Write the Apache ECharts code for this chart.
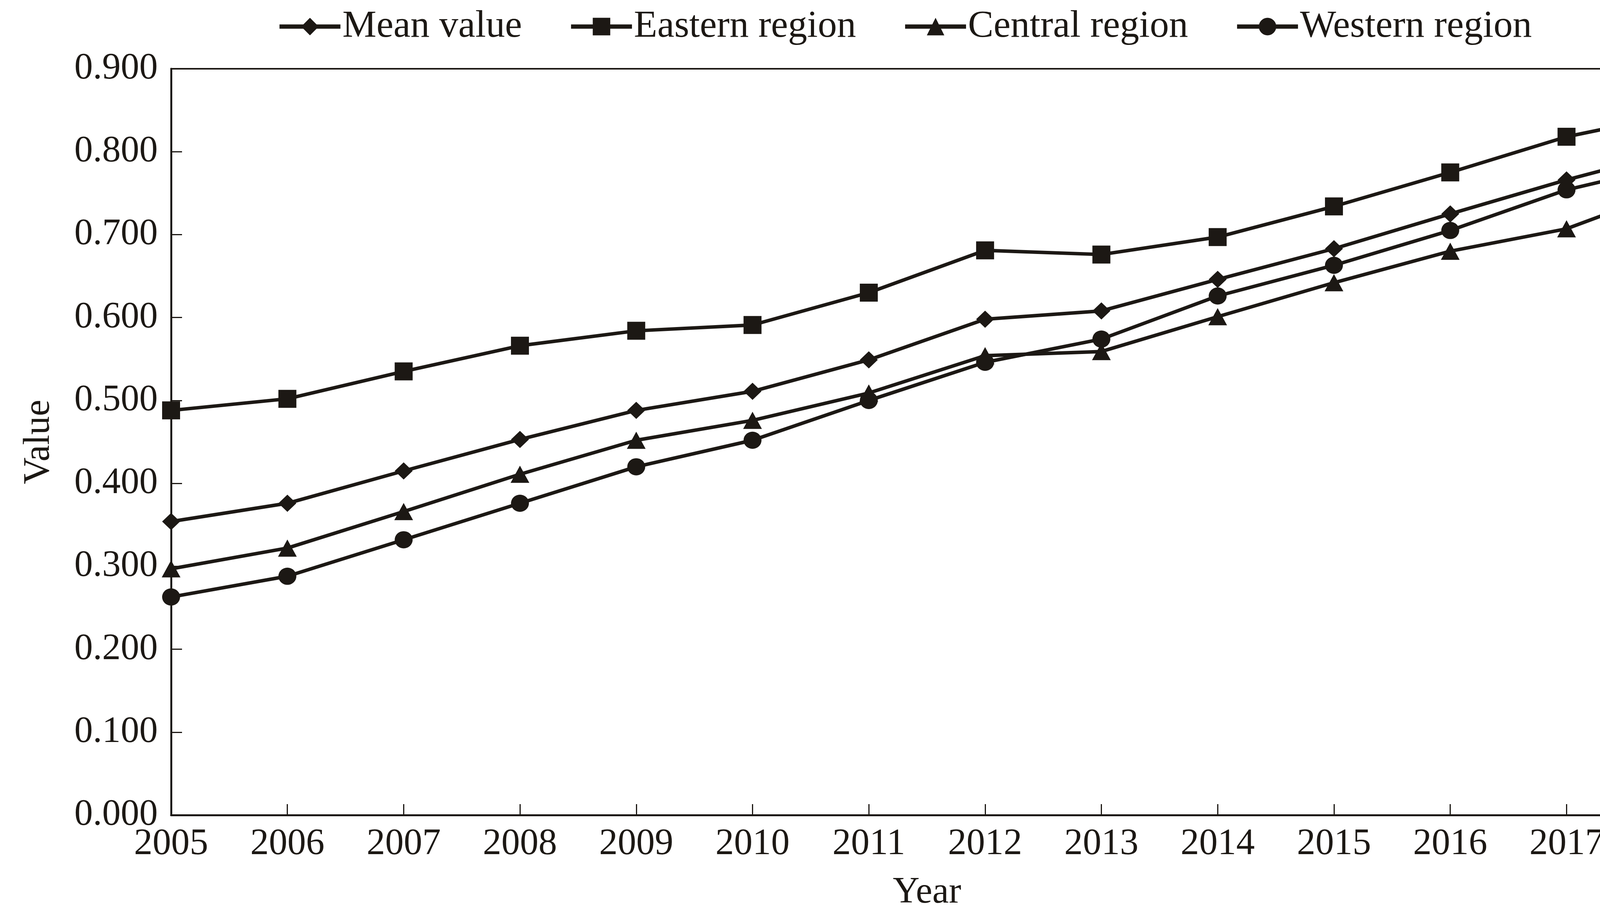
<!DOCTYPE html>
<html>
<head>
<meta charset="utf-8">
<script src="https://cdn.jsdelivr.net/npm/echarts@6/dist/echarts.min.js"></script>
<style>
html,body{margin:0;padding:0;background:#fff;overflow:hidden;}
#chart{width:4443px;height:2352px;}
</style>
</head>
<body>
<div id="chart"></div>
<script>
const years = ['2005','2006','2007','2008','2009','2010','2011','2012','2013','2014','2015','2016','2017','2018'];
const meanValue = [0.354,0.376,0.415,0.453,0.488,0.511,0.549,0.598,0.608,0.646,0.683,0.725,0.766,0.803];
const easternRegion = [0.488,0.502,0.535,0.566,0.584,0.591,0.630,0.681,0.676,0.697,0.734,0.775,0.818,0.847];
const centralRegion = [0.297,0.322,0.366,0.411,0.452,0.476,0.509,0.554,0.559,0.601,0.642,0.680,0.707,0.759];
const westernRegion = [0.263,0.288,0.332,0.376,0.420,0.452,0.500,0.546,0.574,0.626,0.663,0.705,0.754,0.787];
const seriesNames = ['Mean value','Eastern region','Central region','Western region'];

const ink = '#1c1814';
const font = 'Liberation Serif';
const fs = 95;

const chart = echarts.init(document.getElementById('chart'));
function mk(name, data, symbol, size) {
  return {
    name: name, type: 'line', data: data,
    symbol: symbol, symbolSize: size,
    lineStyle: {color: ink, width: 9},
    itemStyle: {color: ink},
    emphasis: {disabled: true},
    animation: false
  };
}
chart.setOption({
  backgroundColor: '#fff',
  animation: false,
  legend: {
    top: 14, left: 705,
    itemWidth: 156, itemHeight: 56, itemGap: 120,
    lineStyle: {width: 11, color: ink},
    textStyle: {fontFamily: font, fontSize: 98, color: ink},
    data: seriesNames
  },
  grid: {left: 438, right: 135, top: 176, bottom: 266, show: true, borderColor: ink, borderWidth: 4},
  xAxis: {
    type: 'category', data: years, boundaryGap: false,
    name: 'Year', nameLocation: 'middle', nameGap: 152,
    nameTextStyle: {fontFamily: font, fontSize: fs, color: ink},
    axisLine: {lineStyle: {color: ink, width: 5}},
    axisTick: {inside: true, length: 28, lineStyle: {color: ink, width: 3}},
    axisLabel: {fontFamily: font, fontSize: fs, color: ink, margin: 28},
    splitLine: {show: false}
  },
  yAxis: {
    type: 'value', min: 0, max: 0.9, interval: 0.1,
    name: 'Value', nameLocation: 'middle', nameGap: 290,
    nameTextStyle: {fontFamily: font, fontSize: fs, color: ink},
    axisLine: {show: true, lineStyle: {color: ink, width: 5}},
    axisTick: {show: true, inside: true, length: 28, lineStyle: {color: ink, width: 3}},
    axisLabel: {fontFamily: font, fontSize: fs, color: ink, margin: 34, formatter: v => v.toFixed(3)},
    splitLine: {show: false}
  },
  series: [
    mk(seriesNames[0], meanValue, 'diamond', [46, 44]),
    mk(seriesNames[1], easternRegion, 'rect', 46),
    mk(seriesNames[2], centralRegion, 'triangle', [48, 44]),
    mk(seriesNames[3], westernRegion, 'circle', [46, 44])
  ]
});
</script>
</body>
</html>
